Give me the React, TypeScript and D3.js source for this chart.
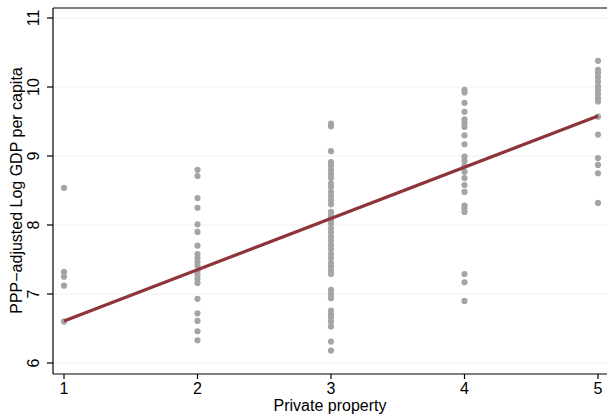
import React from "react";
import * as d3 from "d3";

const xTicks = [1, 2, 3, 4, 5];
const yTicks = [6, 7, 8, 9, 10, 11];

const col1 = [8.54, 7.32, 7.25, 7.12, 6.6];
const col2 = [8.8, 8.71, 8.39, 8.25, 8.01, 7.9, 7.7, 7.58, 7.52, 7.46, 7.41, 7.33, 7.28, 7.22, 7.16, 6.93, 6.72, 6.61, 6.46, 6.33];
const col3 = [9.47, 9.43, 9.07, 8.91, 8.86, 8.8, 8.74, 8.68, 8.6, 8.55, 8.48, 8.42, 8.36, 8.3, 8.19, 8.13, 8.07, 8.02, 7.95, 7.89, 7.83, 7.77, 7.71, 7.65, 7.58, 7.52, 7.45, 7.4, 7.34, 7.29, 7.06, 7.0, 6.94, 6.76, 6.71, 6.66, 6.6, 6.53, 6.31, 6.18];
const col4 = [9.96, 9.92, 9.77, 9.64, 9.53, 9.48, 9.42, 9.3, 9.17, 8.99, 8.93, 8.86, 8.77, 8.68, 8.58, 8.48, 8.28, 8.24, 8.19, 7.29, 7.17, 6.9];
const col5 = [10.38, 10.25, 10.2, 10.14, 10.08, 10.01, 9.96, 9.9, 9.84, 9.79, 9.57, 9.31, 8.97, 8.87, 8.75, 8.32];
const columns = [col1, col2, col3, col4, col5];

const fitX = [1, 5];
const fitY = [6.61, 9.58];

const W = 607;
const H = 414;
const FONT = "'Liberation Sans', Arial, Helvetica, sans-serif";

export default function App() {
  const x = d3.scaleLinear().domain([1, 5]).range([64, 598]);
  const y = d3.scaleLinear().domain([6, 11]).range([363, 18]);
  const axisLeft = 53;
  const axisBottom = 374;
  const top = 8;

  const points: { px: number; py: number }[] = [];
  columns.forEach((col, i) => {
    col.forEach((v) => points.push({ px: x(xTicks[i]), py: y(v) }));
  });

  const line = d3
    .line<number>()
    .x((_, i) => x(fitX[i]))
    .y((d) => y(d));

  return (
    <svg
      width={W}
      height={H}
      style={{ position: "absolute", left: 0, top: 0, background: "#fff" }}
      fontFamily={FONT}
    >
      <rect x={0} y={0} width={W} height={H} fill="#fff" />
      {yTicks.map((t) => (
        <line key={"g" + t} x1={axisLeft} x2={W} y1={y(t)} y2={y(t)} stroke="#EAF2F3" strokeWidth={1} />
      ))}
      <line x1={axisLeft} x2={W} y1={top} y2={top} stroke="#555" strokeWidth={1.5} />
      {points.map((p, i) => (
        <circle key={i} cx={p.px} cy={p.py} r={3.1} fill="#A5A5A5" />
      ))}
      <path d={line(fitY) || ""} fill="none" stroke="#8E353B" strokeWidth={3.2} strokeLinecap="butt" />
      <line x1={axisLeft} x2={axisLeft} y1={top} y2={axisBottom} stroke="#000" strokeWidth={1.2} />
      <line x1={axisLeft} x2={W} y1={axisBottom} y2={axisBottom} stroke="#000" strokeWidth={1.2} />
      {yTicks.map((t) => (
        <g key={"y" + t}>
          <line x1={axisLeft - 6} x2={axisLeft} y1={y(t)} y2={y(t)} stroke="#000" strokeWidth={1.2} />
          <text
            transform={`translate(${axisLeft - 14},${y(t)}) rotate(-90)`}
            textAnchor="middle"
            fontSize={16}
            fill="#000"
          >
            {t}
          </text>
        </g>
      ))}
      {xTicks.map((t) => (
        <g key={"x" + t}>
          <line x1={x(t)} x2={x(t)} y1={axisBottom} y2={axisBottom + 5} stroke="#000" strokeWidth={1.2} />
          <text x={x(t)} y={axisBottom + 20} textAnchor="middle" fontSize={16} fill="#000">
            {t}
          </text>
        </g>
      ))}
      <text
        transform={`translate(22,${(y(6) + y(11)) / 2}) rotate(-90)`}
        textAnchor="middle"
        fontSize={16}
        fill="#000"
      >
        PPP−adjusted Log GDP per capita
      </text>
      <text x={(axisLeft + W) / 2} y={411} textAnchor="middle" fontSize={16} fill="#000">
        Private property
      </text>
    </svg>
  );
}
